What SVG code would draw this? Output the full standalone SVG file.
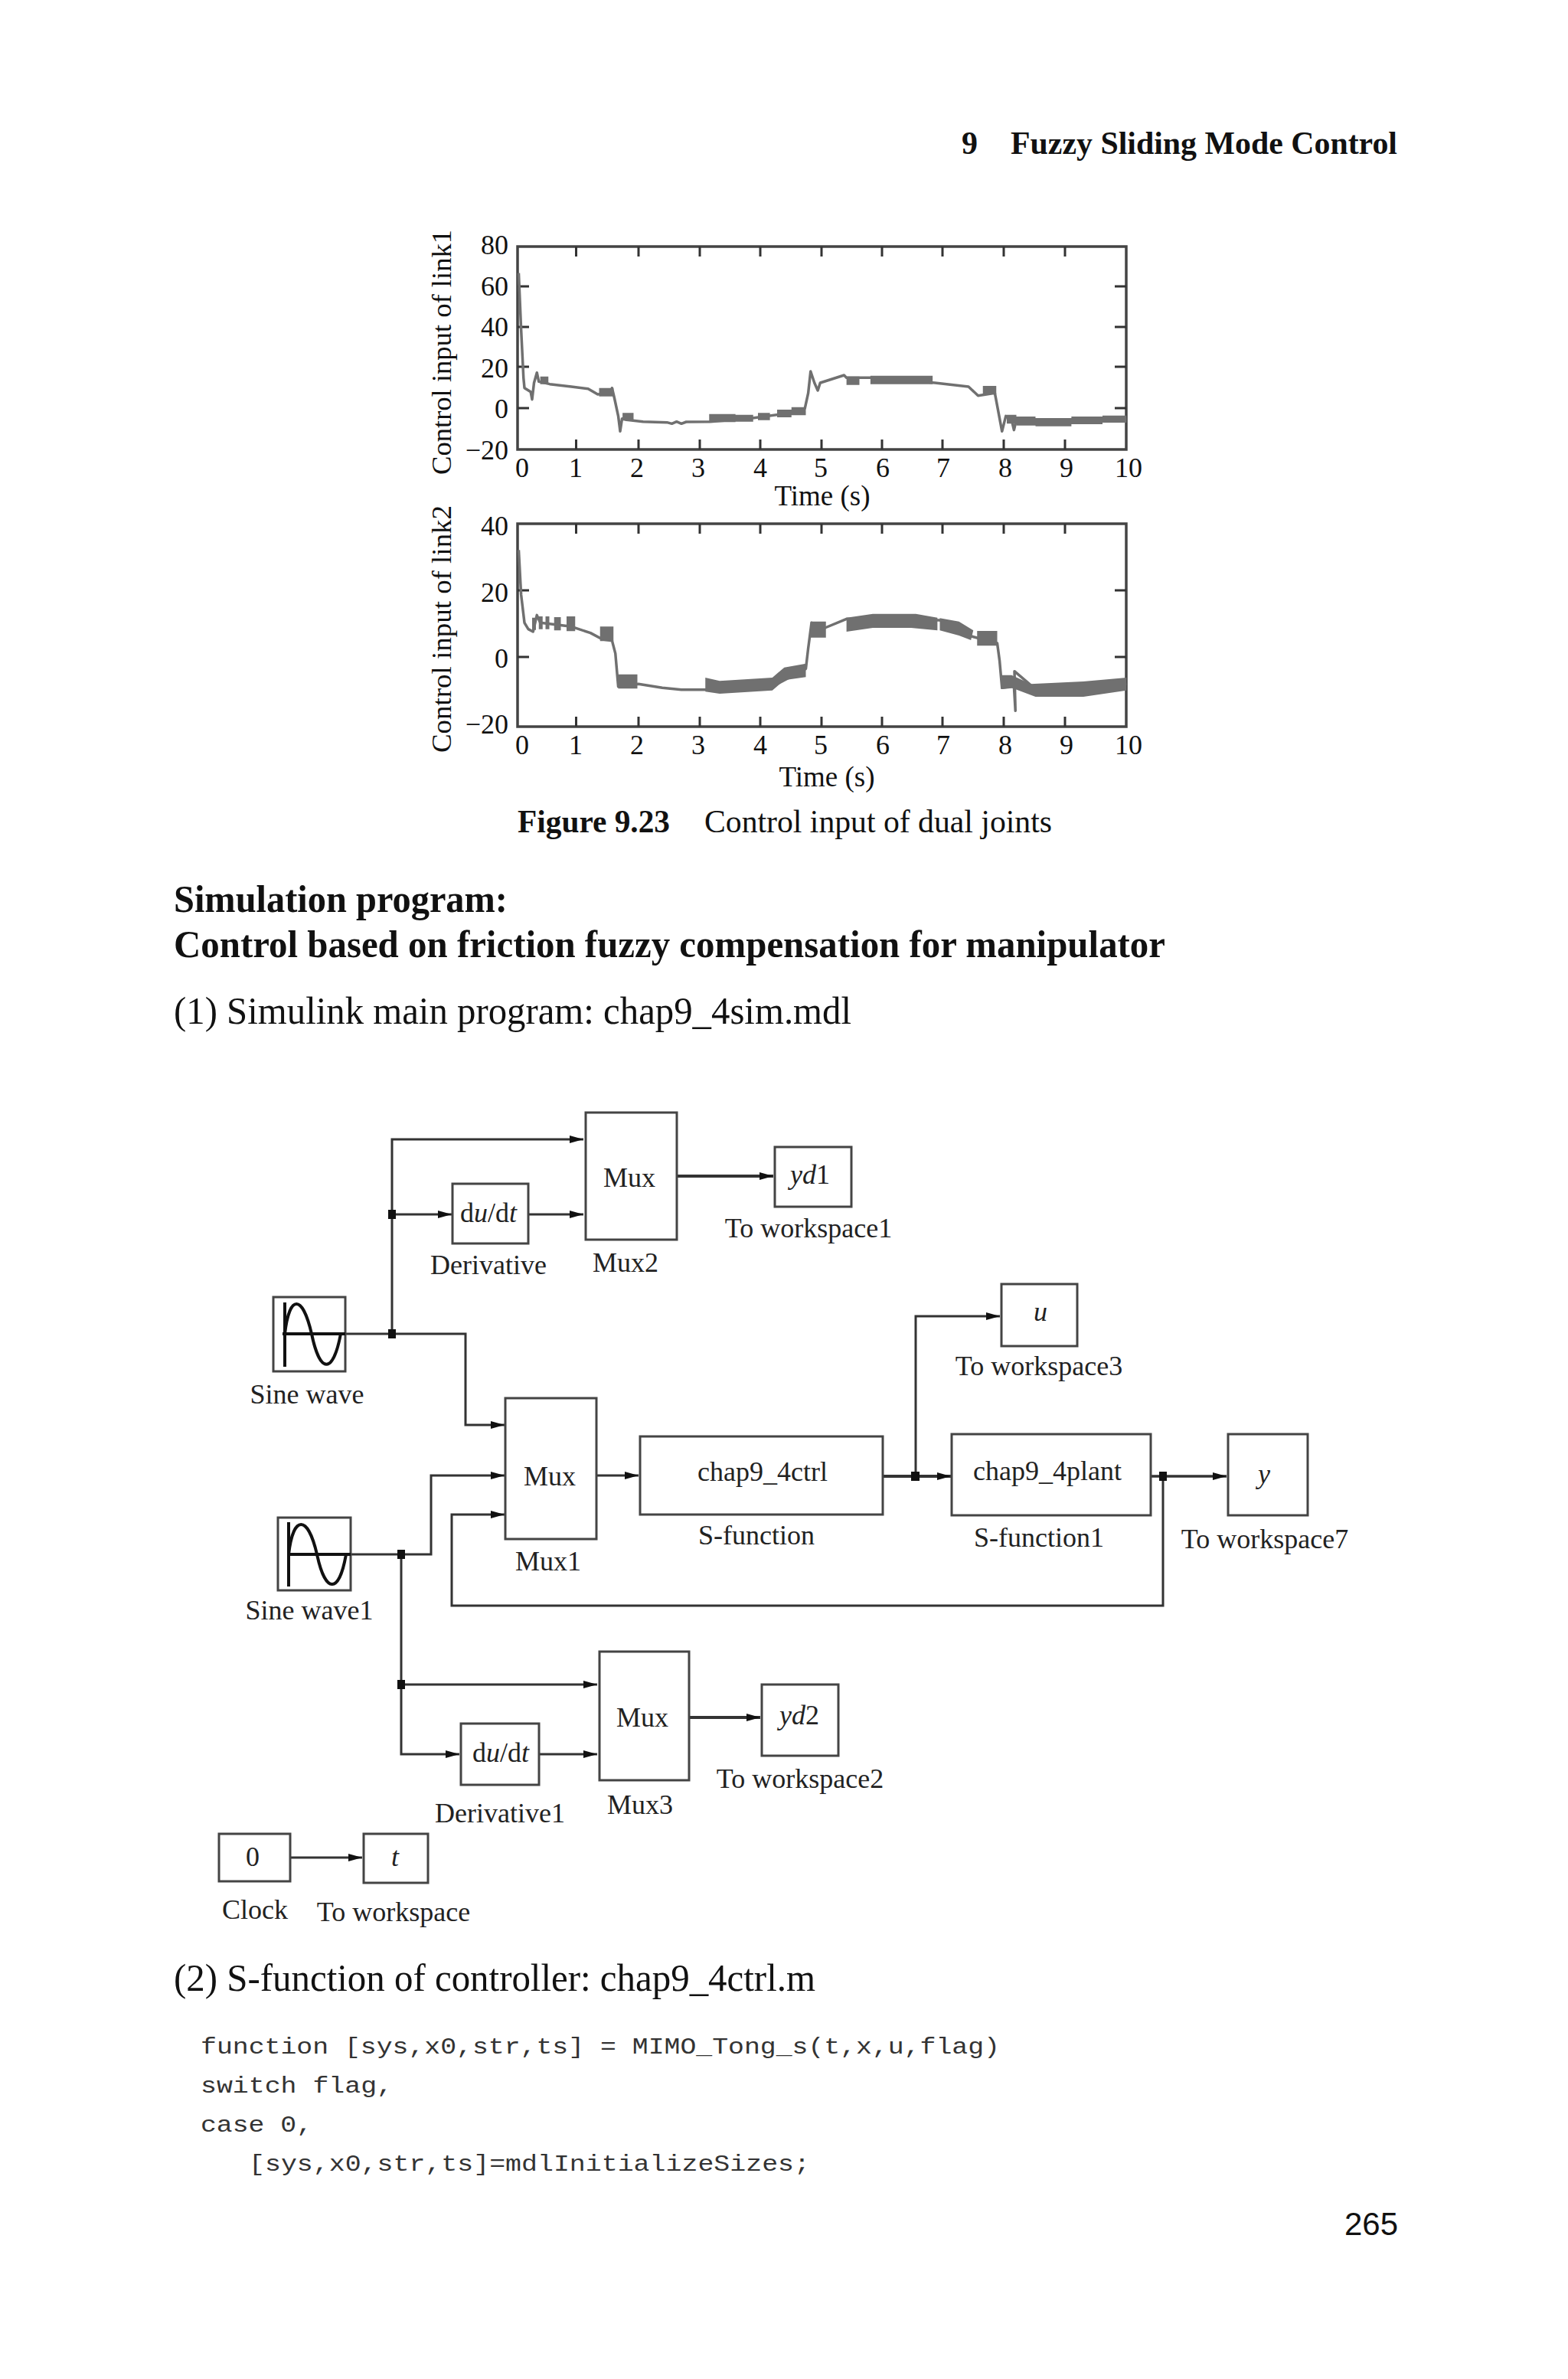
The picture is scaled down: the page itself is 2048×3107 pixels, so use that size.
<svg xmlns="http://www.w3.org/2000/svg" width="2048" height="3107" viewBox="0 0 2048 3107">
<style>
text{font-family:"Liberation Serif","Times New Roman",serif;fill:#111}
.h{font-weight:bold}
.b{font-size:50px}
.r{font-size:50px}
.c{font-size:42px}
.p{font-size:36px}
.pe{font-size:36px;text-anchor:end}
.pm{font-size:36px;text-anchor:middle}
.l{font-size:36px;text-anchor:middle;fill:#222}
.i{font-style:italic}
.m{font-family:"Liberation Mono","Courier New",monospace;font-size:29px;fill:#333}
.n{font-family:"Liberation Sans",Arial,sans-serif;font-size:42px;text-anchor:end}
.frame{fill:none;stroke:#444;stroke-width:3.500}
.tick{fill:none;stroke:#333;stroke-width:3}
.curve{fill:none;stroke:#707070;stroke-width:3.500;vector-effect:non-scaling-stroke;stroke-linejoin:round}
.band{fill:#707070}
.blk{fill:#fff;stroke:#444;stroke-width:3}
.w{fill:none;stroke:#333;stroke-width:3}
.a{marker-end:url(#arr)}
.j{fill:#111}
.s{fill:none;stroke:#111;stroke-width:4}
</style>
<defs>
<marker id="arr" markerUnits="userSpaceOnUse" markerWidth="18" markerHeight="12" refX="18" refY="6" orient="auto"><path d="M0,1 L18,6 L0,11z" fill="#111"/></marker>
</defs>
<rect width="2048" height="3107" fill="#fff"/>

<text class="h" x="1256" y="201" style="font-size:42px">9</text>
<text class="h" x="1320" y="201" textLength="505" lengthAdjust="spacingAndGlyphs" style="font-size:42px">Fuzzy Sliding Mode Control</text>

<g id="plot1">
<rect class="frame" x="676" y="322" width="795" height="265"/>
<path class="tick" d="M752.500,322v13M834,322v13M914,322v13M993,322v13M1073,322v13M1152,322v13M1231,322v13M1311,322v13M1391,322v13M752.500,587v-13M834,587v-13M914,587v-13M993,587v-13M1073,587v-13M1152,587v-13M1231,587v-13M1311,587v-13M1391,587v-13M676,374h15M676,427h15M676,479h15M676,533h15M1471,374h-15M1471,427h-15M1471,479h-15M1471,533h-15"/>
<g transform="translate(540,280) scale(.625,.33333)">
<polyline class="curve" points="220,230 225,450 230,640 232,680 245,695 248,725 252,660 258,620 262,655 285,665 330,675 365,683 385,705 412,700 415,680 420,720 428,790 432,850 436,800 445,805 480,812 530,815 540,820 550,812 560,820 570,813 620,812 700,800 800,775 818,760 825,700 830,615 838,660 845,690 850,660 900,630 905,640 960,640 1090,660 1160,675 1180,710 1215,700 1222,770 1230,850 1238,790 1250,805 1255,845 1260,805 1300,815 1400,815 1490,800"/>
<path class="band" d="M265,635h17v30h-17zM388,680h30v33h-30zM437,778h23v30h-23zM618,782h55v32h-55zM673,785h37v27h-37zM720,778h25v28h-25zM760,765h30v30h-30zM790,755h30v32h-30zM905,635h27v33h-27zM955,632h130v33h-130zM1190,672h28v33h-28zM1240,785h20v35h-20zM1260,792h40v35h-40zM1300,798h75v32h-75zM1375,792h65v30h-65zM1440,788h50v28h-50z"/>
</g>
<text class="p" transform="translate(589,620) rotate(-90)" textLength="320" lengthAdjust="spacingAndGlyphs">Control input of link1</text>
<text class="pe" x="664" y="332">80</text><text class="pe" x="664" y="386">60</text><text class="pe" x="664" y="439">40</text><text class="pe" x="664" y="493">20</text><text class="pe" x="664" y="546">0</text><text class="pe" x="664" y="600">−20</text>
<text class="pm" x="682" y="623">0</text><text class="pm" x="752" y="623">1</text><text class="pm" x="832" y="623">2</text><text class="pm" x="912" y="623">3</text><text class="pm" x="993" y="623">4</text><text class="pm" x="1072" y="623">5</text><text class="pm" x="1153" y="623">6</text><text class="pm" x="1232" y="623">7</text><text class="pm" x="1313" y="623">8</text><text class="pm" x="1393" y="623">9</text><text class="pm" x="1474" y="623">10</text>
<text class="pm" x="1074" y="660" style="font-size:37px">Time (s)</text>
</g>

<g id="plot2">
<rect class="frame" x="676" y="684" width="795" height="265"/>
<path class="tick" d="M752.500,684v13M834,684v13M914,684v13M993,684v13M1073,684v13M1152,684v13M1231,684v13M1311,684v13M1391,684v13M752.500,949v-13M834,949v-13M914,949v-13M993,949v-13M1073,949v-13M1152,949v-13M1231,949v-13M1311,949v-13M1391,949v-13M676,771h15M676,858h15M1471,771h-15M1471,858h-15"/>
<g transform="translate(540,650) scale(.625,.33333)">
<polyline class="curve" points="220,205 225,380 232,490 240,515 250,525 258,460 265,490 330,505 370,530 395,555 415,560 422,610 428,740 470,730 520,745 560,752 610,752 700,740 750,740 820,670 825,590 832,490 860,510 905,475 1100,480 1160,540 1220,570 1225,640 1230,745 1255,740 1258,835 1256,680 1300,750 1490,730"/>
<path class="band" d="M248,470h8v48h-8zM262,465h8v50h-8zM276,465h8v50h-8zM294,468h14v52h-14zM320,465h18v58h-18zM390,505h28v57h-28zM428,692h40v56h-40zM610,705 640,718 750,705 775,665 820,650 820,703 775,715 750,755 640,768 610,760zM830,485h32v63h-32zM905,470 960,455 1050,455 1095,470 1095,520 1040,510 960,510 905,525zM1100,472 1140,485 1170,520 1165,558 1140,540 1100,520zM1178,522h42v58h-42zM1228,695 1250,695 1290,730 1400,720 1490,705 1490,755 1400,780 1300,780 1250,745 1228,750z"/>
</g>
<text class="p" transform="translate(589,983) rotate(-90)" textLength="323" lengthAdjust="spacingAndGlyphs">Control input of link2</text>
<text class="pe" x="664" y="699">40</text><text class="pe" x="664" y="786">20</text><text class="pe" x="664" y="872">0</text><text class="pe" x="664" y="958">−20</text>
<text class="pm" x="682" y="985">0</text><text class="pm" x="752" y="985">1</text><text class="pm" x="832" y="985">2</text><text class="pm" x="912" y="985">3</text><text class="pm" x="993" y="985">4</text><text class="pm" x="1072" y="985">5</text><text class="pm" x="1153" y="985">6</text><text class="pm" x="1232" y="985">7</text><text class="pm" x="1313" y="985">8</text><text class="pm" x="1393" y="985">9</text><text class="pm" x="1474" y="985">10</text>
<text class="pm" x="1080" y="1027" style="font-size:37px">Time (s)</text>
</g>

<text class="c h" x="676" y="1087" textLength="199" lengthAdjust="spacingAndGlyphs">Figure 9.23</text>
<text class="c" x="920" y="1087" textLength="454" lengthAdjust="spacingAndGlyphs">Control input of dual joints</text>
<text class="b h" x="227" y="1191" textLength="436" lengthAdjust="spacingAndGlyphs">Simulation program:</text>
<text class="b h" x="227" y="1250" textLength="1295" lengthAdjust="spacingAndGlyphs">Control based on friction fuzzy compensation for manipulator</text>
<text class="r" x="227" y="1337" textLength="885" lengthAdjust="spacingAndGlyphs">(1) Simulink main program: chap9_4sim.mdl</text>

<g id="connectors">
<path class="w a" d="M512,1742V1488H762"/>
<path class="w a" d="M512,1586H590"/>
<path class="w a" d="M690,1586H762"/>
<path class="w a" style="stroke-width:4" d="M884,1536H1010"/>
<path class="w a" d="M451,1742H608V1861H659"/>
<path class="w a" d="M458,2030H563V1927H659"/>
<path class="w a" d="M1519,1928V2097H590V1978H659"/>
<path class="w a" d="M779,1927H834"/>
<path class="w a" style="stroke-width:4" d="M1153,1928H1242"/>
<path class="w a" d="M1196,1928V1719H1306"/>
<path class="w a" style="stroke-width:3.500" d="M1503,1928H1602"/>
<path class="w a" d="M524,2030V2291H600"/>
<path class="w a" d="M524,2200H780"/>
<path class="w a" d="M704,2291H780"/>
<path class="w a" style="stroke-width:4" d="M900,2243H993"/>
<path class="w a" d="M379,2426H473"/>
<rect class="j" x="507" y="1580" width="10" height="12"/>
<rect class="j" x="507" y="1736" width="10" height="12"/>
<rect class="j" x="519" y="2024" width="10" height="12"/>
<rect class="j" x="519" y="2194" width="10" height="12"/>
<rect class="j" x="1190" y="1922" width="11" height="12"/>
<rect class="j" x="1514" y="1922" width="10" height="12"/>
</g>

<g id="mux2"><rect class="blk" x="765" y="1453" width="119" height="166"/><text class="l" x="822" y="1550">Mux</text><text class="l" x="817" y="1661">Mux2</text></g>
<g id="yd1"><rect class="blk" x="1012" y="1498" width="100" height="78"/><text class="l" x="1058" y="1546"><tspan class="i">yd</tspan>1</text><text class="l" x="1056" y="1616">To workspace1</text></g>
<g id="derivative"><rect class="blk" x="591" y="1546" width="99" height="78"/><text class="l" x="638" y="1596">d<tspan class="i">u</tspan>/d<tspan class="i">t</tspan></text><text class="l" x="638" y="1664">Derivative</text></g>
<g id="sine"><rect class="blk" x="357" y="1694" width="94" height="97" style="fill:none"/><path class="s" d="M372,1701V1785M369,1742H451M372,1742C378,1690 395,1690 407,1742C418,1795 435,1795 445,1742"/><text class="l" x="401" y="1833">Sine wave</text></g>
<g id="mux1"><rect class="blk" x="660" y="1826" width="119" height="184"/><text class="l" x="718" y="1940">Mux</text><text class="l" x="716" y="2051">Mux1</text></g>
<g id="ctrl"><rect class="blk" x="836" y="1876" width="317" height="102"/><text class="l" x="996" y="1934">chap9_4ctrl</text><text class="l" x="988" y="2017">S-function</text></g>
<g id="u"><rect class="blk" x="1308" y="1677" width="99" height="81"/><text class="l i" x="1359" y="1725">u</text><text class="l" x="1357" y="1796">To workspace3</text></g>
<g id="plant"><rect class="blk" x="1243" y="1873" width="260" height="106"/><text class="l" x="1368" y="1933">chap9_4plant</text><text class="l" x="1357" y="2020">S-function1</text></g>
<g id="y"><rect class="blk" x="1604" y="1873" width="104" height="106"/><text class="l i" x="1651" y="1937">y</text><text class="l" x="1652" y="2022">To workspace7</text></g>
<g id="sine1"><rect class="blk" x="363" y="1982" width="95" height="95" style="fill:none"/><path class="s" d="M377,1988V2072M377,2030H458M377,2030C383,1978 402,1978 414,2030C425,2082 443,2082 452,2030"/><text class="l" x="404" y="2115">Sine wave1</text></g>
<g id="mux3"><rect class="blk" x="783" y="2157" width="117" height="168"/><text class="l" x="839" y="2255">Mux</text><text class="l" x="836" y="2369">Mux3</text></g>
<g id="yd2"><rect class="blk" x="995" y="2200" width="100" height="93"/><text class="l" x="1044" y="2252"><tspan class="i">yd</tspan>2</text><text class="l" x="1045" y="2335">To workspace2</text></g>
<g id="derivative1"><rect class="blk" x="602" y="2251" width="102" height="80"/><text class="l" x="654" y="2301">d<tspan class="i">u</tspan>/d<tspan class="i">t</tspan></text><text class="l" x="653" y="2380">Derivative1</text></g>
<g id="clock"><rect class="blk" x="286" y="2395" width="93" height="62"/><text class="l" x="330" y="2437">0</text><text class="l" x="333" y="2506">Clock</text></g>
<g id="t"><rect class="blk" x="475" y="2395" width="84" height="64"/><text class="l i" x="516" y="2437">t</text><text class="l" x="514" y="2509">To workspace</text></g>

<text class="r" x="227" y="2600" textLength="838" lengthAdjust="spacingAndGlyphs">(2) S-function of controller: chap9_4ctrl.m</text>
<text class="m" x="262" y="2682" textLength="1044" lengthAdjust="spacingAndGlyphs">function [sys,x0,str,ts] = MIMO_Tong_s(t,x,u,flag)</text>
<text class="m" x="262" y="2733" textLength="251" lengthAdjust="spacingAndGlyphs">switch flag,</text>
<text class="m" x="262" y="2784" textLength="146" lengthAdjust="spacingAndGlyphs">case 0,</text>
<text class="m" x="325" y="2835" textLength="733" lengthAdjust="spacingAndGlyphs">[sys,x0,str,ts]=mdlInitializeSizes;</text>
<text class="n" x="1826" y="2919">265</text>
</svg>
